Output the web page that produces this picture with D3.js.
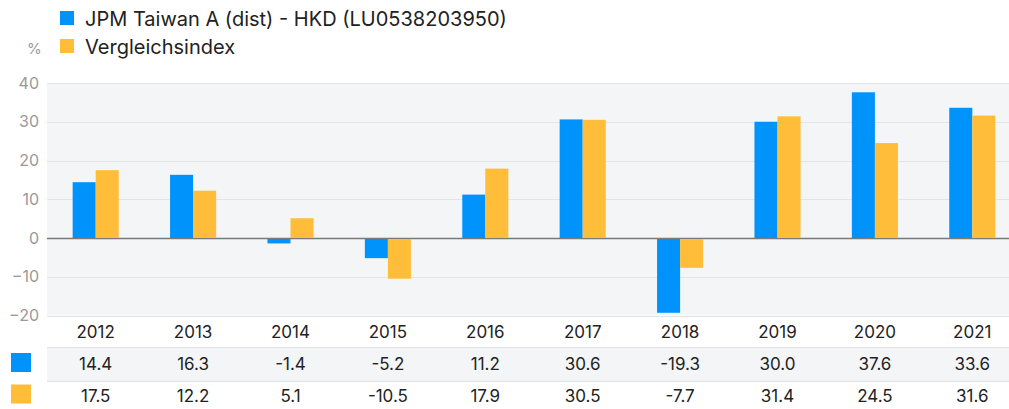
<!DOCTYPE html>
<html><head><meta charset="utf-8">
<script src="https://cdn.jsdelivr.net/npm/d3@7"></script>
<style>body{margin:0;background:#fff}svg{display:block;font-family:Inter,"Liberation Sans",sans-serif}</style>
</head><body><svg id="c" width="1009" height="409"></svg>
<script>
const years = ["2012","2013","2014","2015","2016","2017","2018","2019","2020","2021"];
const fundValues = [14.4,16.3,-1.4,-5.2,11.2,30.6,-19.3,30.0,37.6,33.6];
const indexValues = [17.5,12.2,5.1,-10.5,17.9,30.5,-7.7,31.4,24.5,31.6];
const seriesNames = ["JPM Taiwan A (dist) - HKD (LU0538203950)","Vergleichsindex"];
const yTicks = [-20,-10,0,10,20,30,40];
const colors = ["#0093fb","#ffbd39"];

(function(){
const svg = d3.select("#c");
const W = 1009, plotLeft = 47, plotTop = 83, plotBottom = 315.5;
const x = d3.scaleBand().domain(years).range([plotLeft, plotLeft + 97.4*10]).paddingInner(0.527).paddingOuter(0.2635);
const y = d3.scaleLinear().domain([-20,40]).range([plotBottom, plotTop]);

svg.append("rect").attr("x",plotLeft).attr("y",plotTop).attr("width",W-plotLeft).attr("height",plotBottom-plotTop).attr("fill","#f3f5f7");
svg.append("g").selectAll("line").data(yTicks).join("line")
  .attr("x1",plotLeft).attr("x2",W).attr("y1",d=>Math.round(y(d))+0.5).attr("y2",d=>Math.round(y(d))+0.5)
  .attr("stroke",d=>d===0?"#7a7a7a":"#e2e4e7").attr("stroke-width",d=>d===0?1.5:1);
const yAxis = d3.axisLeft(y).tickValues(yTicks).tickSize(0).tickPadding(0);
const ya = svg.append("g").attr("transform",`translate(${plotLeft-8},0)`).call(yAxis);
ya.select(".domain").remove();
ya.selectAll("text").attr("fill","#999").attr("font-size",16).attr("font-family","Inter, 'Liberation Sans', sans-serif");

const xs = d3.scaleBand().domain([0,1]).range([0, x.bandwidth()]);
const series = [fundValues, indexValues];
series.forEach((vals,si)=>{
  svg.append("g").selectAll("rect").data(vals).join("rect")
    .attr("x",(d,i)=>x(years[i])+xs(si))
    .attr("width",xs.bandwidth())
    .attr("y",d=>y(Math.max(0,d)))
    .attr("height",d=>Math.abs(y(d)-y(0)))
    .attr("fill",colors[si]);
});
svg.append("line").attr("x1",plotLeft).attr("x2",W).attr("y1",Math.round(y(0))+0.5).attr("y2",Math.round(y(0))+0.5).attr("stroke","#7a7a7a").attr("stroke-width",1.2);

const cx = d => x(d) + x.bandwidth()/2;
svg.append("g").selectAll("text").data(years).join("text")
  .attr("x",cx).attr("y",338).attr("text-anchor","middle").attr("font-size",17).attr("fill","#222").text(d=>d);

svg.append("rect").attr("x",plotLeft).attr("y",347).attr("width",W-plotLeft).attr("height",34).attr("fill","#f3f5f7");
[347.5,381.5].forEach(yy=>svg.append("line").attr("x1",plotLeft).attr("x2",W).attr("y1",yy).attr("y2",yy).attr("stroke","#dfe1e4"));
const rowY = [370, 402];
series.forEach((vals,si)=>{
  svg.append("rect").attr("x",11).attr("y",353+si*31.5).attr("width",20).attr("height",19).attr("fill",colors[si]);
  svg.append("g").selectAll("text").data(vals).join("text")
    .attr("x",(d,i)=>cx(years[i])).attr("y",rowY[si]).attr("text-anchor","middle").attr("font-size",17).attr("fill","#222")
    .text(d=>d.toFixed(1));
});

seriesNames.forEach((n,i)=>{
  svg.append("rect").attr("x",60).attr("y",11+i*28).attr("width",14).attr("height",14).attr("fill",colors[i]);
  svg.append("text").attr("x",85).attr("y",26+i*28).attr("font-size",20).attr("fill","#222").text(n);
});
svg.append("text").attr("x",27).attr("y",54).attr("font-size",15).attr("fill","#999").text("%");
})();
</script></body></html>
